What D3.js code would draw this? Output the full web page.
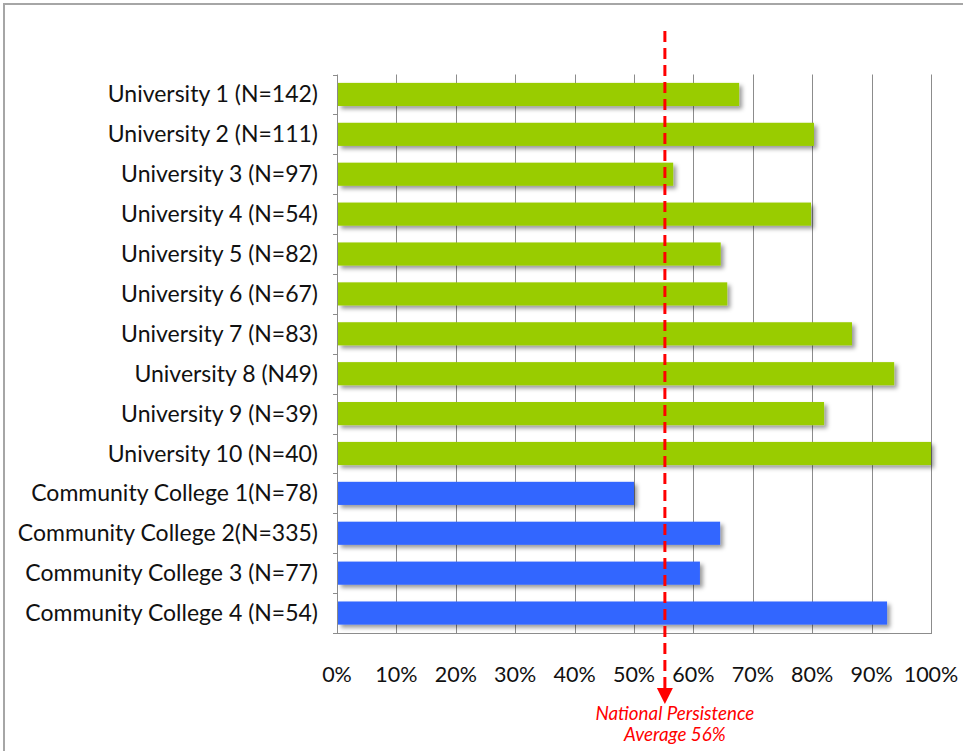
<!DOCTYPE html>
<html>
<head>
<meta charset="utf-8">
<script src="https://cdn.jsdelivr.net/npm/d3@7"></script>
<style>
	html, body { margin: 0; padding: 0; background: #fff; }
	svg { display: block; }
</style>
</head>
<body>
<svg id="chart"></svg>
<script>
// chart data
const categories = [
	"University 1 (N=142)",
	"University 2 (N=111)",
	"University 3 (N=97)",
	"University 4 (N=54)",
	"University 5 (N=82)",
	"University 6 (N=67)",
	"University 7 (N=83)",
	"University 8 (N49)",
	"University 9 (N=39)",
	"University 10 (N=40)",
	"Community College 1(N=78)",
	"Community College 2(N=335)",
	"Community College 3 (N=77)",
	"Community College 4 (N=54)"
];
const institutionType = [
	"University", "University", "University", "University", "University",
	"University", "University", "University", "University", "University",
	"Community College", "Community College", "Community College", "Community College"
];
const persistence = [0.677, 0.803, 0.566, 0.798, 0.646, 0.657, 0.867, 0.938, 0.82, 1.0, 0.50, 0.645, 0.611, 0.926];
const xTicks = [0, 0.1, 0.2, 0.3, 0.4, 0.5, 0.6, 0.7, 0.8, 0.9, 1.0];
const nationalAverage = 0.552; // where the marker sits in the picture
const averageLabel = ["National Persistence", "Average 56%"];

const width = 963;
const height = 751;
const colors = { "University": "#99cc00", "Community College": "#3366ff" };
const labelFont = "Lato, 'DejaVu Sans', sans-serif";

const svg = d3.select("#chart")
	.attr("width", width)
	.attr("height", height);

// drop shadow like the office chart bars
const defs = svg.append("defs");
const shadow = defs.append("filter")
	.attr("id", "shadow")
	.attr("x", "-5%").attr("y", "-30%")
	.attr("width", "115%").attr("height", "190%");
shadow.append("feDropShadow")
	.attr("dx", 3).attr("dy", 3)
	.attr("stdDeviation", 2)
	.attr("flood-color", "#000")
	.attr("flood-opacity", 0.4);

// outer frame
svg.append("rect")
	.attr("x", 4).attr("y", 4)
	.attr("width", width + 20).attr("height", height + 20)
	.attr("fill", "#fff")
	.attr("stroke", "#a6a6a6")
	.attr("stroke-width", 2);

const x = d3.scaleLinear().domain([0, 1]).range([337, 931]);
const y = d3.scaleBand()
	.domain(categories)
	.range([74.5, 633])
	.paddingInner(0.42)
	.paddingOuter(0.21);

// vertical gridlines
svg.append("g")
	.selectAll("line")
	.data(xTicks)
	.join("line")
	.attr("x1", (d) => Math.round(x(d)) + 0.5)
	.attr("x2", (d) => Math.round(x(d)) + 0.5)
	.attr("y1", y.range()[0])
	.attr("y2", y.range()[1])
	.attr("stroke", "#8c8c8c")
	.attr("stroke-width", 1);

// bottom axis line
svg.append("line")
	.attr("x1", x(0)).attr("x2", x(1) + 1)
	.attr("y1", y.range()[1] + 0.5).attr("y2", y.range()[1] + 0.5)
	.attr("stroke", "#8c8c8c");

// small category ticks on the left axis
const step = y.step();
svg.append("g")
	.selectAll("line")
	.data(d3.range(categories.length + 1))
	.join("line")
	.attr("x1", x(0) - 4).attr("x2", x(0))
	.attr("y1", (i) => Math.round(y.range()[0] + i * step) + 0.5)
	.attr("y2", (i) => Math.round(y.range()[0] + i * step) + 0.5)
	.attr("stroke", "#8c8c8c");

// bars
svg.append("g")
	.selectAll("rect")
	.data(categories)
	.join("rect")
	.attr("x", x(0) + 1)
	.attr("y", (d) => y(d))
	.attr("width", (d, i) => x(persistence[i]) - x(0) - 1)
	.attr("height", y.bandwidth())
	.attr("fill", (d, i) => colors[institutionType[i]])
	.attr("filter", "url(#shadow)");

// category labels
svg.append("g")
	.selectAll("text")
	.data(categories)
	.join("text")
	.attr("x", 318)
	.attr("y", (d) => y(d) + y.bandwidth() / 2)
	.attr("dy", "0.35em")
	.attr("text-anchor", "end")
	.attr("font-family", labelFont)
	.attr("font-size", 23)
	.attr("fill", "#111")
	.text((d) => d);

// percent labels under the plot
svg.append("g")
	.selectAll("text")
	.data(xTicks)
	.join("text")
	.attr("x", (d) => x(d))
	.attr("y", 682)
	.attr("text-anchor", "middle")
	.attr("font-family", labelFont)
	.attr("font-size", 21.5)
	.attr("fill", "#111")
	.text(d3.format(".0%"));

// national average marker
const avgX = x(nationalAverage);
svg.append("line")
	.attr("x1", avgX).attr("x2", avgX)
	.attr("y1", 31).attr("y2", 690)
	.attr("stroke", "#ff0000")
	.attr("stroke-width", 3)
	.attr("stroke-dasharray", "11,6");

svg.append("path")
	.attr("d", d3.line()([[avgX - 8, 688], [avgX + 8, 688], [avgX, 704]]) + "Z")
	.attr("fill", "#ff0000");

svg.append("g")
	.selectAll("text")
	.data(averageLabel)
	.join("text")
	.attr("x", avgX + 10)
	.attr("y", (d, i) => 720 + i * 21)
	.attr("text-anchor", "middle")
	.attr("font-family", labelFont)
	.attr("font-style", "italic")
	.attr("font-size", 18.8)
	.attr("fill", "#ff0000")
	.text((d) => d);
</script>
</body>
</html>
